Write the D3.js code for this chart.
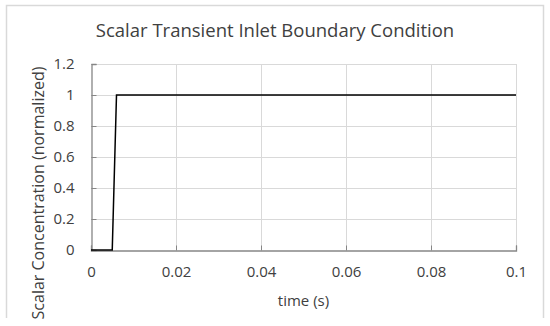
<!DOCTYPE html>
<html><head><meta charset="utf-8">
<script src="https://cdn.jsdelivr.net/npm/d3@7"></script>
<style>body{margin:0;background:#fff}svg{display:block}text{font-family:"Open Sans","Liberation Sans",sans-serif;fill:#404040}</style>
</head><body><svg id="c" width="550" height="326"></svg>
<script>
const timeValues = [0, 0.005, 0.006, 0.1];
const concentration = [0, 0, 1, 1];
const xTicks = [0, 0.02, 0.04, 0.06, 0.08, 0.1];
const yTicks = [0, 0.2, 0.4, 0.6, 0.8, 1, 1.2];
const title = "Scalar Transient Inlet Boundary Condition";
const xLabel = "time (s)";
const yLabel = "Scalar Concentration (normalized)";

const svg = d3.select("#c");
const m = {l:91, r:516, t:64, b:250};
const x = d3.scaleLinear().domain([0,0.1]).range([m.l,m.r]);
const y = d3.scaleLinear().domain([0,1.2]).range([m.b,m.t]);

// chart border (cropped at bottom)
svg.append("path").attr("d",`M6.5,318V5.5H543.5V318`).attr("fill","none").attr("stroke","#d9d9d9").attr("stroke-width",1.5);

// gridlines
svg.append("g").selectAll("line").data(yTicks.slice(1)).join("line")
  .attr("x1",m.l).attr("x2",m.r).attr("y1",d=>Math.round(y(d))+0.5).attr("y2",d=>Math.round(y(d))+0.5)
  .attr("stroke","#d9d9d9");
svg.append("g").selectAll("line").data(xTicks.slice(1)).join("line")
  .attr("x1",d=>Math.round(x(d))+0.5).attr("x2",d=>Math.round(x(d))+0.5).attr("y1",m.t).attr("y2",m.b)
  .attr("stroke","#d9d9d9");

// axes
const xa = svg.append("g").attr("transform",`translate(0,${m.b+0.5})`)
  .call(d3.axisBottom(x).tickValues(xTicks).tickFormat(d=>d3.format("~g")(d)).tickSize(-5).tickPadding(16));
const ya = svg.append("g").attr("transform",`translate(${m.l+0.5},0)`)
  .call(d3.axisLeft(y).tickValues(yTicks).tickFormat(d=>d3.format("~g")(d)).tickSize(-5).tickPadding(17));
[xa,ya].forEach(a=>{
  a.select(".domain").attr("stroke","#868686").attr("stroke-width",1.3);
  a.selectAll(".tick line").attr("stroke","#868686");
  a.selectAll(".tick text").attr("font-size",15).attr("fill","#404040").attr("font-family",'"Open Sans","Liberation Sans",sans-serif');
});
xa.selectAll(".tick text").attr("dy","0.71em");

// line
svg.append("path").datum(timeValues.map((t,i)=>[t,concentration[i]]))
  .attr("d",d3.line().x(d=>x(d[0])).y(d=>y(d[1])))
  .attr("fill","none").attr("stroke","#000").attr("stroke-width",1.5);

// texts
svg.append("text").attr("x",275).attr("y",37).attr("text-anchor","middle").attr("font-size",18.5).text(title);
svg.append("text").attr("x",(m.l+m.r)/2).attr("y",306).attr("text-anchor","middle").attr("font-size",15).text(xLabel);
svg.append("text").attr("transform","translate(44,193) rotate(-90)").attr("text-anchor","middle").attr("font-size",16).text(yLabel);
</script></body></html>
